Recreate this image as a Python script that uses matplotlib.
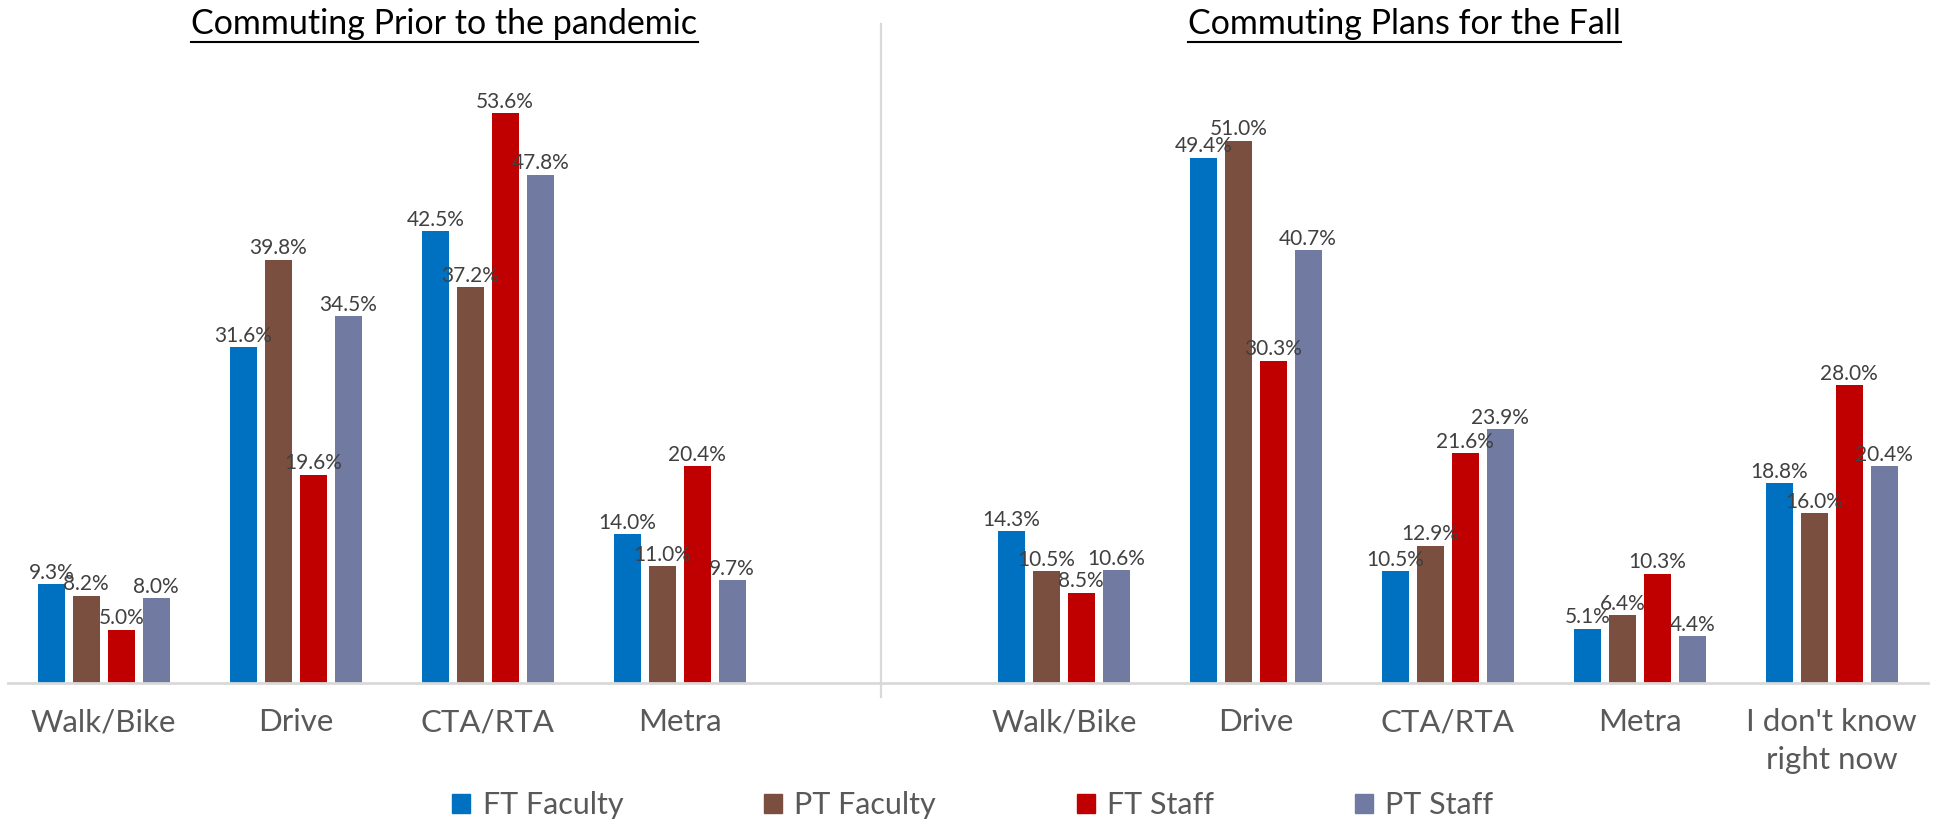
import matplotlib
matplotlib.use("Agg")
import matplotlib.pyplot as plt
from matplotlib.lines import Line2D
from matplotlib.patches import Patch
import numpy as np

plt.rcParams["font.family"] = ["Lato", "DejaVu Sans"]

# data
series = ["FT Faculty", "PT Faculty", "FT Staff", "PT Staff"]
colors = ["#0070C0", "#7B4F3F", "#C00000", "#717BA1"]

before_cats = ["Walk/Bike", "Drive", "CTA/RTA", "Metra"]
before_ft_faculty = [9.3, 31.6, 42.5, 14.0]
before_pt_faculty = [8.2, 39.8, 37.2, 11.0]
before_ft_staff = [5.0, 19.6, 53.6, 20.4]
before_pt_staff = [8.0, 34.5, 47.8, 9.7]

fall_cats = ["Walk/Bike", "Drive", "CTA/RTA", "Metra", "I don't know\nright now"]
fall_ft_faculty = [14.3, 49.4, 10.5, 5.1, 18.8]
fall_pt_faculty = [10.5, 51.0, 12.9, 6.4, 16.0]
fall_ft_staff = [8.5, 30.3, 21.6, 10.3, 28.0]
fall_pt_staff = [10.6, 40.7, 23.9, 4.4, 20.4]

before_vals = [before_ft_faculty, before_pt_faculty, before_ft_staff, before_pt_staff]
fall_vals = [fall_ft_faculty, fall_pt_faculty, fall_ft_staff, fall_pt_staff]

fig = plt.figure(figsize=(19.34, 8.19), dpi=100)
ax = fig.add_axes([0.004, 0.166, 0.9928, 0.779])

x_before = np.arange(len(before_cats))
x_fall = np.arange(len(fall_cats)) + len(before_cats) + 1

width = 0.142
step = 0.182
for i in range(len(series)):
    off = (i - 1.5) * step
    for xs, vals in ((x_before, before_vals[i]), (x_fall, fall_vals[i])):
        bars = ax.bar(xs + off, vals, width, color=colors[i], linewidth=0)
        ax.bar_label(bars, labels=[f"{v:.1f}%" for v in vals], padding=1,
                     fontsize=15, color="#404040")

ax.set_xlim(-0.5, 9.5)
ax.set_ylim(0, 60)
ax.set_xticks(list(x_before) + list(x_fall))
ax.set_xticklabels(before_cats + fall_cats, fontsize=22.5, color="#595959",
                   linespacing=1.45)
ax.tick_params(axis="x", length=0, pad=18)
ax.set_yticks([])
for s in ["top", "left", "right"]:
    ax.spines[s].set_visible(False)
ax.spines["bottom"].set_color("#D9D9D9")
ax.spines["bottom"].set_linewidth(2)

# separator between the two panels
sep = Line2D([4.05, 4.05], [-0.022, 1.033], transform=ax.get_xaxis_transform(),
             color="#D9D9D9", lw=1.6, clip_on=False)
ax.add_line(sep)

# underlined titles
titles = [("Commuting Prior to the pandemic", 1.775),
          ("Commuting Plans for the Fall", 6.775)]
title_texts = []
for label, xc in titles:
    t = ax.text(xc, 1.033, label, transform=ax.get_xaxis_transform(),
                ha="center", va="center", fontsize=24.5, color="black")
    title_texts.append(t)

fig.canvas.draw()
renderer = fig.canvas.get_renderer()
for t in title_texts:
    bb = t.get_window_extent(renderer).transformed(fig.transFigure.inverted())
    y = 1 - 42 / 819
    fig.add_artist(Line2D([bb.x0, bb.x1], [y, y], transform=fig.transFigure,
                          color="black", lw=1.5))

handles = [Patch(color=c, label=s) for c, s in zip(colors, series)]
fig.legend(handles=handles, loc="center", bbox_to_anchor=(0.503, 0.017), ncol=4,
           frameon=False, fontsize=22, handlelength=0.6, handleheight=0.6,
           handletextpad=0.4, columnspacing=4.6, labelcolor="#595959")

plt.savefig("out.png", dpi=100)
plt.close()
